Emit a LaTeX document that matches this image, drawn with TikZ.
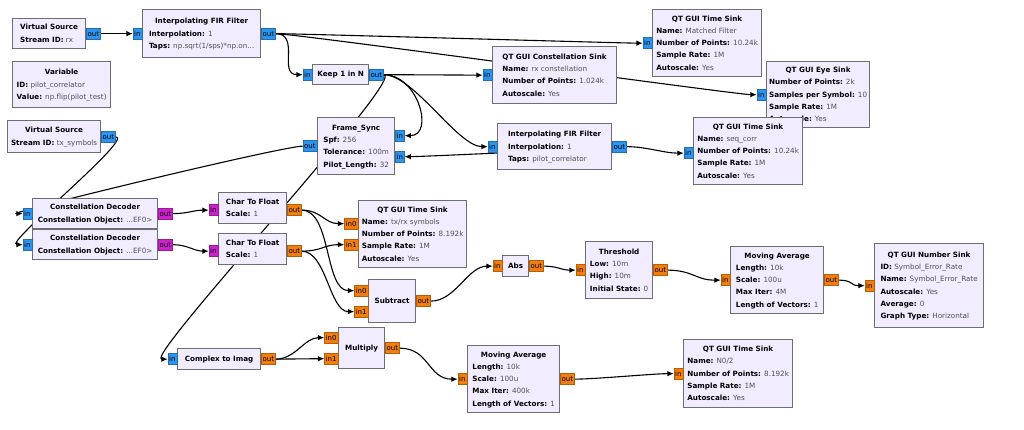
\documentclass[tikz,border=0pt]{standalone}
\usepackage{fontspec}
\setmainfont{DejaVu Sans}
\usetikzlibrary{arrows.meta,backgrounds}

\definecolor{blockfill}{HTML}{F1ECFF}
\definecolor{blockline}{HTML}{6E6E6E}
\definecolor{valgray}{HTML}{505050}
\definecolor{cplx}{HTML}{2E93EC}
\definecolor{flt}{HTML}{F07E10}
\definecolor{byt}{HTML}{CC22CC}

\newcommand{\prm}[2]{\textbf{#1:} {\color{valgray}#2}}
\newcommand{\btitle}[1]{\multicolumn{1}{@{}c@{}}{\textbf{#1}}}

\tikzset{
  block/.style={draw=blockline, fill=blockfill, line width=1.3pt, anchor=north west,
    inner sep=0pt, font=\fontsize{7.2}{12.3}\selectfont},
  port/.style={draw=#1!75!black, fill=#1, line width=0.4pt, inner xsep=1.2pt,
    inner ysep=0pt, minimum height=11pt, font=\fontsize{7}{8}\selectfont},
  wire/.style={line width=1.1pt, -{Latex[length=6.5pt,width=5.5pt]}}
}

\begin{document}
\begin{tikzpicture}[x=1pt, y=-1pt]
\useasboundingbox (0,0) rectangle (1024,430);

% draw blocks, top row
\node[block, minimum width=73, minimum height=30] (vsrx) at (12,18)
  {\begin{tabular}{@{}l@{}}\btitle{Virtual Source}\\ \prm{Stream ID}{rx}\end{tabular}};
\node[block, minimum width=98, minimum height=46] (variable) at (12,61)
  {\begin{tabular}{@{}l@{}}\btitle{Variable}\\ \prm{ID}{pilot\_correlator}\\ \prm{Value}{np.flip(pilot\_test)}\end{tabular}};
\node[block, minimum width=118, minimum height=48] (firmf) at (142,9)
  {\begin{tabular}{@{}l@{}}\btitle{Interpolating FIR Filter}\\ \prm{Interpolation}{1}\\ \prm{Taps}{np.sqrt(1/sps)*np.on...}\end{tabular}};
\node[block, minimum width=56, minimum height=20] (keep) at (312,64) {\textbf{Keep 1 in N}};
\node[block, minimum width=124, minimum height=57] (consink) at (492,46)
  {\begin{tabular}{@{}l@{}}\btitle{QT GUI Constellation Sink}\\ \prm{Name}{rx constellation}\\ \prm{Number of Points}{1.024k}\\ \prm{Autoscale}{Yes}\end{tabular}};
\node[block, minimum width=109, minimum height=67] (tsmf) at (652,9)
  {\begin{tabular}{@{}l@{}}\btitle{QT GUI Time Sink}\\ \prm{Name}{Matched Filter}\\ \prm{Number of Points}{10.24k}\\ \prm{Sample Rate}{1M}\\ \prm{Autoscale}{Yes}\end{tabular}};
\node[block, minimum width=103, minimum height=66] (eyesink) at (766,61)
  {\begin{tabular}{@{}l@{}}\btitle{QT GUI Eye Sink}\\ \prm{Number of Points}{2k}\\ \prm{Samples per Symbol}{10}\\ \prm{Sample Rate}{1M}\\ \prm{Autoscale}{Yes}\end{tabular}};

% draw blocks, middle
\node[block, minimum width=93, minimum height=32] (vstx) at (7,120)
  {\begin{tabular}{@{}l@{}}\btitle{Virtual Source}\\ \prm{Stream ID}{tx\_symbols}\end{tabular}};
\node[block, minimum width=77, minimum height=57] (framesync) at (317,117)
  {\begin{tabular}{@{}l@{}}\btitle{Frame\_Sync}\\ \prm{Spf}{256}\\ \prm{Tolerance}{100m}\\ \prm{Pilot\_Length}{32}\end{tabular}};
\node[block, minimum width=114, minimum height=46] (firpc) at (497,123)
  {\begin{tabular}{@{}l@{}}\btitle{Interpolating FIR Filter}\\ \prm{Interpolation}{1}\\ \prm{Taps}{pilot\_correlator}\end{tabular}};
\node[block, minimum width=109, minimum height=67] (tscorr) at (693,117)
  {\begin{tabular}{@{}l@{}}\btitle{QT GUI Time Sink}\\ \prm{Name}{seq\_corr}\\ \prm{Number of Points}{10.24k}\\ \prm{Sample Rate}{1M}\\ \prm{Autoscale}{Yes}\end{tabular}};
\node[block, minimum width=125, minimum height=30] (decA) at (32,198)
  {\begin{tabular}{@{}l@{}}\btitle{Constellation Decoder}\\ \prm{Constellation Object}{...EF0>}\end{tabular}};
\node[block, minimum width=125, minimum height=30] (decB) at (32,229)
  {\begin{tabular}{@{}l@{}}\btitle{Constellation Decoder}\\ \prm{Constellation Object}{...EF0>}\end{tabular}};
\node[block, minimum width=68, minimum height=31] (ctfA) at (218,192)
  {\begin{tabular}{@{}l@{}}\btitle{Char To Float}\\ \prm{Scale}{1}\end{tabular}};
\node[block, minimum width=68, minimum height=31] (ctfB) at (218,233)
  {\begin{tabular}{@{}l@{}}\btitle{Char To Float}\\ \prm{Scale}{1}\end{tabular}};
\node[block, minimum width=108, minimum height=67] (tssym) at (358,200)
  {\begin{tabular}{@{}l@{}}\btitle{QT GUI Time Sink}\\ \prm{Name}{tx/rx symbols}\\ \prm{Number of Points}{8.192k}\\ \prm{Sample Rate}{1M}\\ \prm{Autoscale}{Yes}\end{tabular}};

% draw blocks, lower part
\node[block, minimum width=47, minimum height=43] (subtr) at (368,279) {\textbf{Subtract}};
\node[block, minimum width=26, minimum height=21] (absb) at (502,255) {\textbf{Abs}};
\node[block, minimum width=67, minimum height=57] (thresh) at (585,241)
  {\begin{tabular}{@{}l@{}}\btitle{Threshold}\\ \prm{Low}{10m}\\ \prm{High}{10m}\\ \prm{Initial State}{0}\end{tabular}};
\node[block, minimum width=93, minimum height=67] (mavgA) at (730,246)
  {\begin{tabular}{@{}l@{}}\btitle{Moving Average}\\ \prm{Length}{10k}\\ \prm{Scale}{100u}\\ \prm{Max Iter}{4M}\\ \prm{Length of Vectors}{1}\end{tabular}};
\node[block, minimum width=109, minimum height=84] (numsink) at (874,243)
  {\begin{tabular}{@{}l@{}}\btitle{QT GUI Number Sink}\\ \prm{ID}{Symbol\_Error\_Rate}\\ \prm{Name}{Symbol\_Error\_Rate}\\ \prm{Autoscale}{Yes}\\ \prm{Average}{0}\\ \prm{Graph Type}{Horizontal}\end{tabular}};
\node[block, minimum width=83, minimum height=21] (ctoi) at (177,348) {\textbf{Complex to Imag}};
\node[block, minimum width=46, minimum height=41] (mult) at (338,327) {\textbf{Multiply}};
\node[block, minimum width=92, minimum height=67] (mavgB) at (467,345)
  {\begin{tabular}{@{}l@{}}\btitle{Moving Average}\\ \prm{Length}{10k}\\ \prm{Scale}{100u}\\ \prm{Max Iter}{400k}\\ \prm{Length of Vectors}{1}\end{tabular}};
\node[block, minimum width=109, minimum height=68] (tsnoise) at (683,339)
  {\begin{tabular}{@{}l@{}}\btitle{QT GUI Time Sink}\\ \prm{Name}{N0/2}\\ \prm{Number of Points}{8.192k}\\ \prm{Sample Rate}{1M}\\ \prm{Autoscale}{Yes}\end{tabular}};

% draw ports
\node[port=cplx, anchor=west] (vsrx-out) at (vsrx.east) {out};
\node[port=cplx, anchor=east] (firmf-in) at (firmf.west) {in};
\node[port=cplx, anchor=west] (firmf-out) at (firmf.east) {out};
\node[port=cplx, anchor=east] (keep-in) at (keep.west) {in};
\node[port=cplx, anchor=west] (keep-out) at (keep.east) {out};
\node[port=cplx, anchor=east] (consink-in) at (consink.west) {in};
\node[port=cplx, anchor=east] (tsmf-in) at (tsmf.west) {in};
\node[port=cplx, anchor=east] (eyesink-in) at (eyesink.west) {in};
\node[port=cplx, anchor=west] (vstx-out) at (vstx.east) {out};
\node[port=cplx, anchor=east] (framesync-out) at (framesync.west) {out};
\node[port=cplx, anchor=west] (framesync-in0) at ([yshift=10.5pt]framesync.east) {in};
\node[port=cplx, anchor=west] (framesync-in1) at ([yshift=-10.5pt]framesync.east) {in};
\node[port=cplx, anchor=east] (firpc-in) at (firpc.west) {in};
\node[port=cplx, anchor=west] (firpc-out) at (firpc.east) {out};
\node[port=cplx, anchor=east] (tscorr-in) at ([yshift=-2pt]tscorr.west) {in};
\node[port=cplx, anchor=east] (decA-in) at (decA.west) {in};
\node[port=byt, anchor=west] (decA-out) at (decA.east) {out};
\node[port=cplx, anchor=east] (decB-in) at (decB.west) {in};
\node[port=byt, anchor=west] (decB-out) at (decB.east) {out};
\node[port=byt, anchor=east] (ctfA-in) at ([yshift=-2pt]ctfA.west) {in};
\node[port=flt, anchor=west] (ctfA-out) at ([yshift=-2pt]ctfA.east) {out};
\node[port=byt, anchor=east] (ctfB-in) at ([yshift=-2pt]ctfB.west) {in};
\node[port=flt, anchor=west] (ctfB-out) at ([yshift=-2pt]ctfB.east) {out};
\node[port=flt, anchor=east] (tssym-in0) at ([yshift=10.5pt]tssym.west) {in0};
\node[port=flt, anchor=east] (tssym-in1) at ([yshift=-10.5pt]tssym.west) {in1};
\node[port=flt, anchor=east] (subtr-in0) at ([yshift=10.5pt]subtr.west) {in0};
\node[port=flt, anchor=east] (subtr-in1) at ([yshift=-10.5pt]subtr.west) {in1};
\node[port=flt, anchor=west] (subtr-out) at (subtr.east) {out};
\node[port=flt, anchor=east] (absb-in) at (absb.west) {in};
\node[port=flt, anchor=west] (absb-out) at (absb.east) {out};
\node[port=flt, anchor=east] (thresh-in) at (thresh.west) {in};
\node[port=flt, anchor=west] (thresh-out) at (thresh.east) {out};
\node[port=flt, anchor=east] (mavgA-in) at (mavgA.west) {in};
\node[port=flt, anchor=west] (mavgA-out) at (mavgA.east) {out};
\node[port=flt, anchor=east] (numsink-in) at (numsink.west) {in};
\node[port=cplx, anchor=east] (ctoi-in) at (ctoi.west) {in};
\node[port=flt, anchor=west] (ctoi-out) at (ctoi.east) {out};
\node[port=flt, anchor=east] (mult-in0) at ([yshift=10.5pt]mult.west) {in0};
\node[port=flt, anchor=east] (mult-in1) at ([yshift=-10.5pt]mult.west) {in1};
\node[port=flt, anchor=west] (mult-out) at (mult.east) {out};
\node[port=flt, anchor=east] (mavgB-in) at (mavgB.west) {in};
\node[port=flt, anchor=west] (mavgB-out) at (mavgB.east) {out};
\node[port=flt, anchor=east] (tsnoise-in) at (tsnoise.west) {in};

% draw connections behind the blocks
\begin{scope}[on background layer]
\draw[wire] (vsrx-out.east) -- (firmf-in.west);
\draw[wire] (firmf-out.east) .. controls +(20,0) and +(-20,0) .. (tsmf-in.west);
\draw[wire] (firmf-out.east) .. controls +(20,0) and +(-20,0) .. (eyesink-in.west);
\draw[wire] (firmf-out.east) .. controls +(25,0) and +(-25,0) .. (keep-in.west);
\draw[wire] (keep-out.east) -- (consink-in.west);
\draw[wire] (keep-out.east) .. controls +(35,0) and +(30,0) .. (framesync-in0.east);
\draw[wire] (keep-out.east) .. controls +(30,0) and +(-30,0) .. (firpc-in.west);
\draw[wire] (keep-out.east) .. controls +(25,0) and +(-25,0) .. (ctoi-in.west);
\draw[wire] (firpc-out.east) .. controls +(20,0) and +(-20,0) .. (tscorr-in.west);
\draw[wire] (firpc-out.east) .. controls +(10,0) and +(20,0) .. (framesync-in1.east);
\draw[wire] (framesync-out.west) .. controls +(-20,0) and +(-20,0) .. (decA-in.west);
\draw[wire] (vstx-out.east) .. controls +(20,0) and +(-20,0) .. (decB-in.west);
\draw[wire] (decA-out.east) .. controls +(15,0) and +(-15,0) .. (ctfA-in.west);
\draw[wire] (decB-out.east) .. controls +(15,0) and +(-15,0) .. (ctfB-in.west);
\draw[wire] (ctfA-out.east) .. controls +(20,0) and +(-20,0) .. (tssym-in0.west);
\draw[wire] (ctfA-out.east) .. controls +(30,0) and +(-30,0) .. (subtr-in0.west);
\draw[wire] (ctfB-out.east) .. controls +(20,0) and +(-20,0) .. (tssym-in1.west);
\draw[wire] (ctfB-out.east) .. controls +(25,0) and +(-25,0) .. (subtr-in1.west);
\draw[wire] (subtr-out.east) .. controls +(25,0) and +(-25,0) .. (absb-in.west);
\draw[wire] (absb-out.east) .. controls +(15,0) and +(-15,0) .. (thresh-in.west);
\draw[wire] (thresh-out.east) .. controls +(25,0) and +(-25,0) .. (mavgA-in.west);
\draw[wire] (mavgA-out.east) .. controls +(15,0) and +(-15,0) .. (numsink-in.west);
\draw[wire] (ctoi-out.east) .. controls +(20,0) and +(-20,0) .. (mult-in0.west);
\draw[wire] (ctoi-out.east) -- (mult-in1.west);
\draw[wire] (mult-out.east) .. controls +(30,0) and +(-30,0) .. (mavgB-in.west);
\draw[wire] (mavgB-out.east) .. controls +(20,0) and +(-20,0) .. (tsnoise-in.west);
\end{scope}

\end{tikzpicture}
\end{document}
